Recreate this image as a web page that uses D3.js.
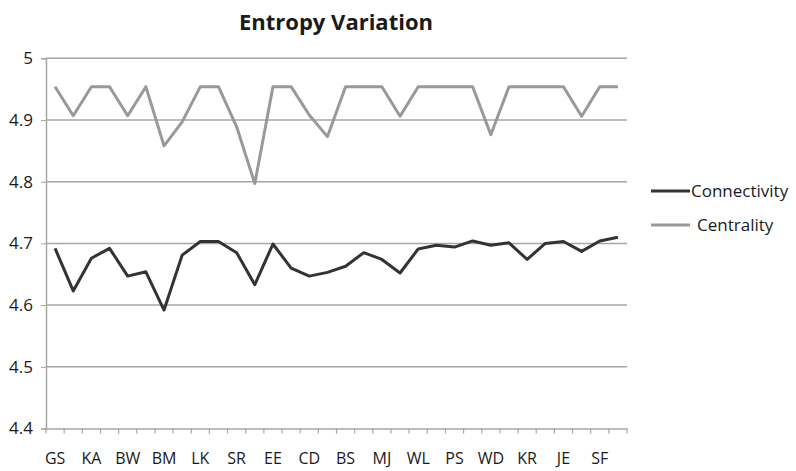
<!DOCTYPE html>
<html>
<head>
<meta charset="utf-8">
<script src="https://cdn.jsdelivr.net/npm/d3@7"></script>
<style>
  body { margin: 0; background: #fff; }
  svg { display: block; font-family: "Open Sans", "Noto Sans", sans-serif; }
</style>
</head>
<body>
<svg id="chart" width="796" height="471"></svg>
<script>
// ---- data ----
const tickLabels = ["GS","","KA","","BW","","BM","","LK","","SR","","EE","","CD","","BS","","MJ","","WL","","PS","","WD","","KR","","JE","","SF",""];
const categories = d3.range(32);
const connectivity = [4.692,4.623,4.676,4.692,4.647,4.654,4.592,4.681,4.703,4.703,4.685,4.633,4.699,4.660,4.647,4.653,4.663,4.685,4.674,4.652,4.691,4.697,4.694,4.704,4.697,4.701,4.674,4.700,4.703,4.687,4.704,4.710];
const centrality   = [4.954,4.907,4.954,4.954,4.907,4.954,4.858,4.897,4.954,4.954,4.889,4.797,4.954,4.954,4.908,4.873,4.954,4.954,4.954,4.906,4.954,4.954,4.954,4.954,4.876,4.954,4.954,4.954,4.954,4.906,4.954,4.954];
const yTicks = [4.4,4.5,4.6,4.7,4.8,4.9,5];
const seriesNames = ["Connectivity","Centrality"];
const seriesColors = ["#333333","#999999"];

// ---- layout ----
const svg = d3.select("#chart");
const mLeft = 46, mRight = 627, mTop = 58.3, mBottom = 428.5;

const x = d3.scaleBand().domain(categories).range([mLeft, mRight]).padding(0);
const y = d3.scaleLinear().domain([4.4, 5]).range([mBottom, mTop]);

// title
svg.append("text")
  .attr("x", 336).attr("y", 30)
  .attr("text-anchor", "middle")
  .attr("font-size", 22).attr("font-weight", "bold")
  .attr("fill", "#1a1a1a")
  .text("Entropy Variation");

// gridlines
svg.append("g").selectAll("line")
  .data(yTicks.filter(t => t > 4.4))
  .join("line")
  .attr("x1", mLeft).attr("x2", mRight)
  .attr("y1", d => y(d)).attr("y2", d => y(d))
  .attr("stroke", "#a6a6a6").attr("stroke-width", 1.5);

// y axis
const yAxis = svg.append("g")
  .attr("transform", `translate(${mLeft},0)`)
  .call(d3.axisLeft(y).tickValues(yTicks).tickFormat(d => String(+d.toFixed(1))).tickSize(5).tickPadding(8));
yAxis.select(".domain").attr("stroke", "#a6a6a6").attr("stroke-width", 1.5);
yAxis.selectAll(".tick line").attr("stroke", "#a6a6a6");
yAxis.selectAll("text").attr("font-size", 17).attr("fill", "#1a1a1a")
  .attr("font-family", "'Open Sans', sans-serif");

// x axis
const xAxis = svg.append("g")
  .attr("transform", `translate(0,${mBottom})`)
  .call(d3.axisBottom(x).tickFormat(i => tickLabels[i]).tickSize(0).tickPadding(24));
xAxis.select(".domain").attr("stroke", "#a6a6a6").attr("stroke-width", 1.5);
xAxis.selectAll("text").attr("font-size", 16).attr("fill", "#1a1a1a")
  .attr("font-family", "'Open Sans', sans-serif");
// tick marks between categories
svg.append("g").selectAll("line")
  .data(d3.range(33))
  .join("line")
  .attr("x1", i => mLeft + i * x.step()).attr("x2", i => mLeft + i * x.step())
  .attr("y1", mBottom).attr("y2", mBottom + 5)
  .attr("stroke", "#a6a6a6").attr("stroke-width", 1.2);

// lines
const line = d3.line()
  .x((d, i) => x(categories[i]) + x.bandwidth() / 2)
  .y(d => y(d));

[connectivity, centrality].forEach((s, k) => {
  svg.append("path")
    .datum(s)
    .attr("d", line)
    .attr("fill", "none")
    .attr("stroke", seriesColors[k])
    .attr("stroke-width", 3)
    .attr("stroke-linejoin", "round");
});

// legend
const legend = svg.append("g");
seriesNames.forEach((name, k) => {
  const ly = 191 + k * 34;
  legend.append("line")
    .attr("x1", 651).attr("x2", 690)
    .attr("y1", ly).attr("y2", ly)
    .attr("stroke", seriesColors[k]).attr("stroke-width", 3);
  legend.append("text")
    .attr("x", k === 0 ? 691 : 697).attr("y", ly + 6)
    .attr("font-size", 17).attr("fill", "#1a1a1a")
    .text(name);
});
</script>
</body>
</html>
